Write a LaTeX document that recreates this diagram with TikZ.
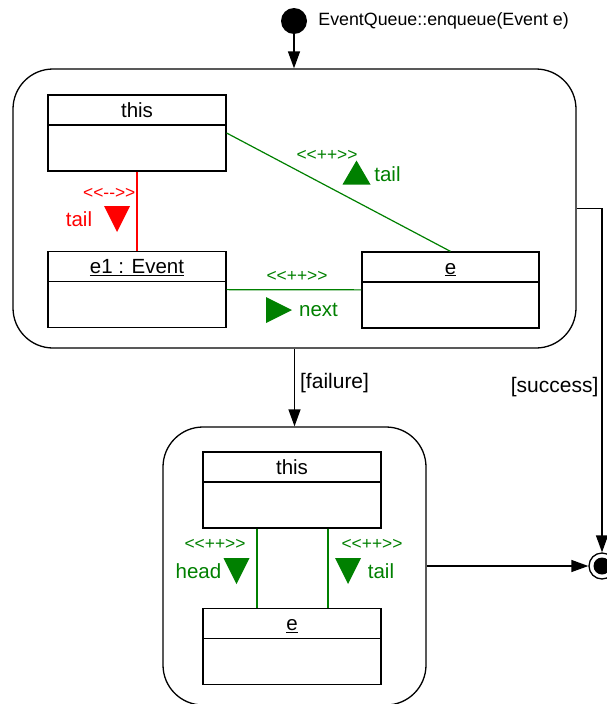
\documentclass[tikz,border=0pt]{standalone}
\usepackage{fontspec}
\setmainfont{Liberation Sans}
\usetikzlibrary{arrows.meta}

\definecolor{addgreen}{RGB}{0,128,0}

\begin{document}
\begin{tikzpicture}[%
    x=1pt, y=1pt,
    >={Triangle[length=17pt,width=12pt]},
    classbox/.style={draw, line width=1.2pt, minimum width=178pt,
      inner sep=6pt, text height=16pt, text depth=48pt,
      font=\fontsize{20.5}{24}\selectfont,
      path picture={\draw[line width=1.2pt]
        ([yshift=-30pt]path picture bounding box.north west) --
        ([yshift=-30pt]path picture bounding box.north east);}},
    statebox/.style={draw, line width=1.3pt, rounded corners=40pt, inner sep=0pt},
    flow/.style={->, line width=1.3pt},
    guard/.style={inner sep=2pt, font=\fontsize{21}{24}\selectfont},
    stereo/.style={inner sep=1pt, font=\fontsize{17.4}{20}\selectfont},
    role/.style={inner sep=0pt, font=\fontsize{20.5}{24}\selectfont},
    linkdel/.style={red, line width=1.2pt},
    linkadd/.style={addgreen, line width=1.2pt},
    tridown/.pic={\fill (-13,13) -- (13,13) -- (0,-13) -- cycle;},
    triup/.pic={\fill (-14,-12) -- (14,-12) -- (0,12) -- cycle;},
    triright/.pic={\fill (-13,13) -- (-13,-13) -- (13,0) -- cycle;}
  ]
  \useasboundingbox (0,0) rectangle (607,-704);

  \node[statebox, minimum width=563pt, minimum height=279pt] (upper) at (294.5,-208.5) {};
  \node[statebox, minimum width=263pt, minimum height=278pt] (lower) at (294.5,-566) {};

  \node[circle, fill, minimum size=26pt, inner sep=0pt] (start) at (294,-21) {};
  \node[anchor=west, inner sep=0pt, font=\fontsize{17.8}{20}\selectfont] (startlbl)
    at ([xshift=11pt]start.east) {EventQueue::enqueue(Event e)};

  \node[classbox] (thisA) at (137,-133) {this};
  \node[classbox] (e1) at (137,-289.5) {\underline{e1 : Event}};
  \node[classbox, minimum width=177pt] (eA) at (450.5,-290) {\underline{e}};
  \node[classbox] (thisB) at (292,-490) {this};
  \node[classbox] (eB) at (292,-646.5) {\underline{e}};

  \node[circle, draw, fill=white, line width=1.3pt, minimum size=26pt, inner sep=0pt] (end) at (602,-566) {};
  \node[circle, fill, minimum size=17pt, inner sep=0pt] (enddot) at (end) {};

  \draw[flow] (start) -- (start |- upper.north);
  \draw[flow] (upper.south) -- node[guard, right=3pt, pos=0.44] (failure) {[failure]} (lower.north);
  \draw[flow] (upper.east) -| node[guard, left=1pt, pos=0.76] (success) {[success]} (end.north);
  \draw[flow] (end.west -| lower.east) -- (end.west);

  \draw[linkdel] (thisA) -- node[stereo, anchor=east, pos=0.28] (delst) {<{}<-{}->{}>} (e1);
  \node[role, red] (deltail) at (79,-219) {tail};
  \pic[red] at (117,-219) {tridown};

  \draw[linkadd] (thisA.east) -- (eA.north);
  \node[stereo, addgreen] (addst1) at (327,-155) {<{}<++>{}>};
  \pic[addgreen] at (356.5,-172.5) {triup};
  \node[role, addgreen] (addtail1) at (387.5,-174) {tail};

  \draw[linkadd] (e1) -- (eA);
  \node[stereo, addgreen] (addst2) at (297,-276) {<{}<++>{}>};
  \pic[addgreen] at (279,-310) {triright};
  \node[role, addgreen] (addnext) at (318.5,-310) {next};

  \draw[linkadd] ([xshift=-35pt]thisB.south) -- ([xshift=-35pt]eB.north);
  \draw[linkadd] ([xshift=36pt]thisB.south) -- ([xshift=36pt]eB.north);
  \node[stereo, addgreen] (addst3) at (215,-544) {<{}<++>{}>};
  \node[role, addgreen] (addhead) at (198.5,-571) {head};
  \pic[addgreen] at (236.5,-571) {tridown};
  \node[stereo, addgreen] (addst4) at (372,-544) {<{}<++>{}>};
  \pic[addgreen] at (348,-571) {tridown};
  \node[role, addgreen] (addtail2) at (381,-571) {tail};
\end{tikzpicture}
\end{document}
